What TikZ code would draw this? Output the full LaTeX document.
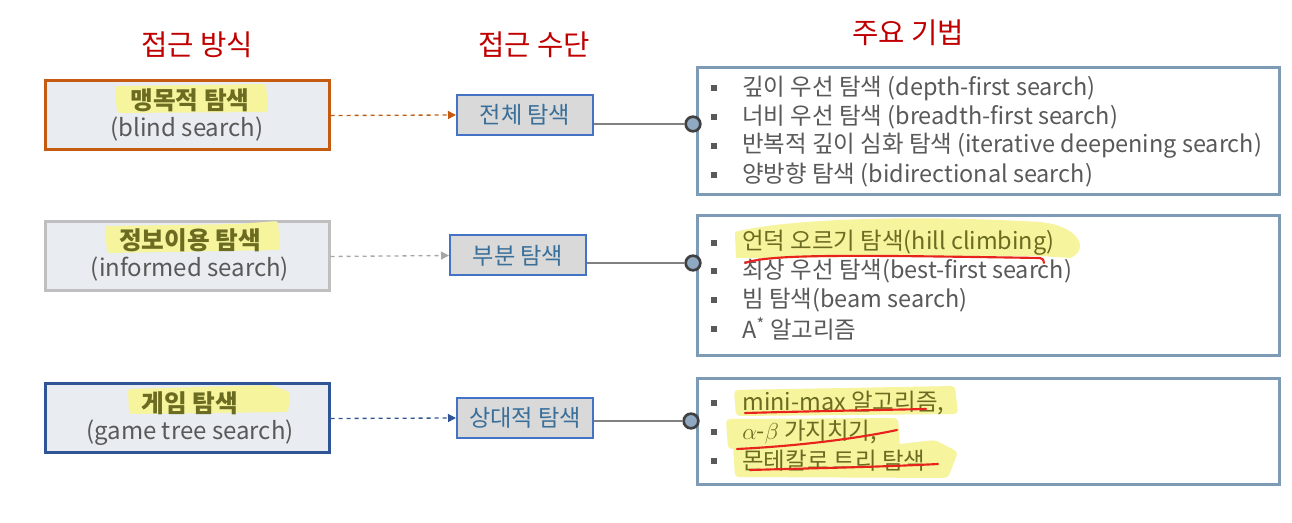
\documentclass[tikz,border=0pt]{standalone}
\usepackage{fontspec}
\setmainfont{Noto Sans CJK KR}
\usetikzlibrary{arrows.meta}
\definecolor{hdrred}{HTML}{C00000}
\definecolor{txtgray}{HTML}{595959}
\definecolor{olive}{HTML}{6B6B22}
\definecolor{hl}{HTML}{F6F49C}
\definecolor{boxfill}{HTML}{E9ECF0}
\definecolor{midfill}{HTML}{D9D9D9}
\definecolor{midborder}{HTML}{4472C4}
\definecolor{midtext}{HTML}{3A6F99}
\definecolor{rborder}{HTML}{7D9BB5}
\definecolor{orangeb}{HTML}{C55A11}
\definecolor{grayb}{HTML}{BFBFBF}
\definecolor{blueb}{HTML}{2F5597}
\definecolor{grayarrow}{HTML}{A6A6A6}
\definecolor{dotfill}{HTML}{8EA9C1}
\definecolor{redline}{HTML}{E8231E}
\tikzset{
  hdr/.style={text=hdrred, font=\fontsize{21.5}{23}\selectfont, inner sep=0pt},
  lbox/.style={draw, fill=boxfill, line width=2.25pt, minimum width=213pt, minimum height=51.75pt, inner sep=0pt},
  ltitle/.style={text=olive, font=\bfseries\fontsize{18.5}{20}\selectfont, inner sep=0pt},
  lsub/.style={text=txtgray, font=\fontsize{18}{20}\selectfont, inner sep=0pt},
  mbox/.style={draw=midborder, fill=midfill, line width=1.5pt, minimum width=102pt, minimum height=30pt, inner sep=0pt, text=midtext, font=\fontsize{17.4}{19}\selectfont},
  rbox/.style={draw=rborder, fill=white, line width=2.25pt, minimum width=436.5pt, inner sep=0pt},
  item/.style={anchor=west, text=txtgray, font=\fontsize{17.6}{19}\selectfont, inner sep=0pt},
  hitem/.style={item, text=olive},
  bul/.style={fill=txtgray, minimum size=4.5pt, inner sep=0pt},
  darrow/.style={dashed, line width=1pt, -{Triangle[length=6pt,width=6pt]}},
  conn/.style={draw=gray, line width=1.5pt},
  dot/.style={circle, draw=black!75, fill=dotfill, line width=2pt, minimum size=11pt, inner sep=0pt},
  hlfill/.style={fill=hl, draw=none},
  redul/.style={draw=redline, line width=1.6pt, line cap=round},
}
\begin{document}
\begin{tikzpicture}[x=0.75pt,y=-0.75pt]
\useasboundingbox (0,0) rectangle (1292,523);
% headers
\node[hdr] (h1) at (197,45) {접근 방식};
\node[hdr] (h2) at (534,45) {접근 수단};
\node[hdr] (h3) at (908,33) {주요 기법};
% left boxes
\node[lbox, draw=orangeb] (L1) at (187,115.5) {};
\node[lbox, draw=grayb] (L2) at (187,256.5) {};
\node[lbox, draw=blueb] (L3) at (187,418.5) {};
\fill[hlfill, rounded corners=2pt] (115,86) -- (266,84) -- (268,112) -- (117,113) -- cycle;
\fill[hlfill, rounded corners=2pt] (105,226) -- (238,224) -- (278,221) -- (280,250) -- (107,253) -- cycle;
\fill[hlfill, rounded corners=2pt] (128,389) -- (270,385) -- (290,392) -- (288,412) -- (129,414) -- cycle;
\node[ltitle] (t1) at (190,100) {맹목적 탐색};
\node[lsub] (s1) at (187,129) {(blind search)};
\node[ltitle] (t2) at (190,240) {정보이용 탐색};
\node[lsub] (s2) at (190,269) {(informed search)};
\node[ltitle] (t3) at (190,403) {게임 탐색};
\node[lsub] (s3) at (190,433) {(game tree search)};
% middle boxes
\node[mbox] (M1) at (525,115) {전체 탐색};
\node[mbox] (M2) at (518,255.5) {부분 탐색};
\node[mbox] (M3) at (525,418) {상대적 탐색};
\draw[darrow, orangeb] (L1.east) -- (M1.west);
\draw[darrow, grayarrow] (L2.east) -- (M2.west);
\draw[darrow, blueb] (L3.east) -- (M3.west);
% right boxes
\node[rbox, minimum height=95.25pt] (R1) at (988,131.5) {};
\node[rbox, minimum height=105pt] (R2) at (988,286) {};
\node[rbox, minimum height=79.5pt] (R3) at (988,432) {};
% connectors and dots
\node[dot] (c1) at (693,124) {};
\node[dot] (c2) at (693,263) {};
\node[dot] (c3) at (691,421) {};
\draw[conn] (M1.east |- c1) -- (c1.west);
\draw[conn] (M2.east |- c2) -- (c2.west);
\draw[conn] (M3.east |- c3) -- (c3.west);
% highlights in right boxes
\fill[hlfill] (735,232) .. controls (780,220) and (900,214) .. (1040,222) .. controls (1080,226) and (1090,250) .. (1070,258) -- (1040,256) .. controls (900,256) and (800,258) .. (736,258) -- cycle;
\fill[hlfill, rounded corners=3pt] (734,390) -- (955,386) -- (958,414) -- (736,416) -- cycle;
\fill[hlfill, rounded corners=3pt] (726,419) -- (898,418) -- (900,447) -- (728,449) -- cycle;
\fill[hlfill, rounded corners=3pt] (733,446) -- (900,444) -- (935,440) -- (958,452) -- (948,478) -- (735,477) -- cycle;
% R1 items
\foreach \y/\n in {88/a1,117/a2,146/a3,175/a4}{\node[bul] (b\n) at (714,\y) {};}
\node[item] (i1) at (742,88) {깊이 우선 탐색 (depth-first search)};
\node[item] (i2) at (742,117) {너비 우선 탐색 (breadth-first search)};
\node[item] (i3) at (742,146) {반복적 깊이 심화 탐색 (iterative deepening search)};
\node[item] (i4) at (742,175) {양방향 탐색 (bidirectional search)};
% R2 items
\foreach \y/\n in {243/b1,271/b2,300/b3,329/b4}{\node[bul] (b\n) at (714,\y) {};}
\node[hitem] (j1) at (742,243) {언덕 오르기 탐색(hill climbing)};
\node[item] (j2) at (742,271) {최상 우선 탐색(best-first search)};
\node[item] (j3) at (742,300) {빔 탐색(beam search)};
\node[item] (j4) at (742,329) {A\textsuperscript{*} 알고리즘};
% R3 items
\foreach \y/\n in {403/c1,432/c2,461/c3}{\node[bul] (b\n) at (714,\y) {};}
\node[hitem] (k1) at (742,403) {mini-max 알고리즘,};
\node[hitem] (k2) at (742,432) {$\alpha$-$\beta$ 가지치기,};
\node[hitem] (k3) at (742,461) {몬테칼로 트리 탐색};
% red underlines
\draw[redul] (745,263) .. controls (770,254) and (850,255) .. (1040,258) .. controls (1043,259) .. (1044,263);
\draw[redul] (745,413) .. controls (820,411) and (880,410) .. (926,409);
\draw[redul] (737,449) .. controls (800,446) and (860,438) .. (897,430);
\draw[redul] (750,470) .. controls (820,468) and (880,467) .. (938,464);
\end{tikzpicture}
\end{document}
